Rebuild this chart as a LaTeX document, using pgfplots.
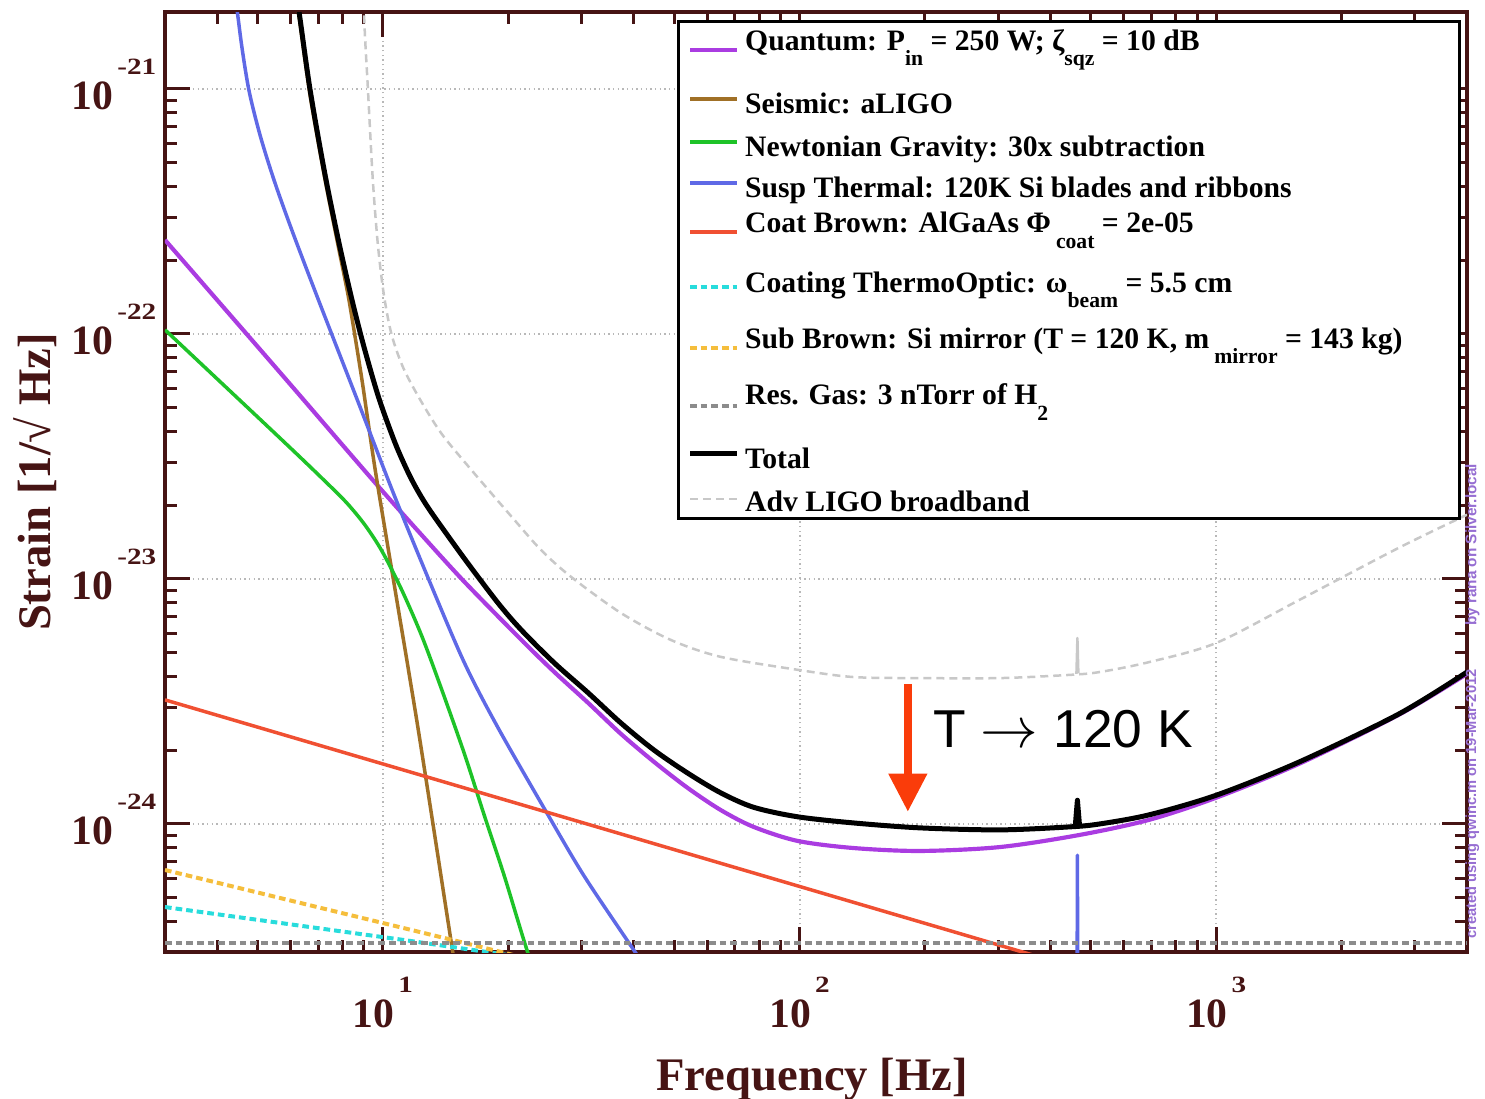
\documentclass[border=0pt]{standalone}
\usepackage{fontspec}
\setmainfont{Liberation Serif}
\newfontfamily\sansf{Liberation Sans}
\usepackage{pgfplots}
\pgfplotsset{compat=1.18}
\usetikzlibrary{arrows.meta}
\definecolor{maroon}{RGB}{70,20,20}
\definecolor{cquant}{RGB}{170,60,225}
\definecolor{cseis}{RGB}{160,112,38}
\definecolor{cnewt}{RGB}{30,195,40}
\definecolor{csusp}{RGB}{95,105,230}
\definecolor{ccoat}{RGB}{240,80,50}
\definecolor{cto}{RGB}{40,220,220}
\definecolor{csub}{RGB}{245,190,60}
\definecolor{cgas}{RGB}{140,140,140}
\definecolor{cadv}{RGB}{200,200,200}
\definecolor{carrow}{RGB}{250,60,10}
\definecolor{cside}{RGB}{150,110,210}
\newcommand{\tenexp}[1]{10\kern1.2pt\raisebox{10.5pt}{\scalebox{1.25}[1]{\fontsize{7}{7}\selectfont #1}}}
\newcommand{\lsub}[1]{\raisebox{-4.6pt}{\fontsize{6.5}{7}\selectfont #1}}
\newcommand{\lstrut}[1]{\rule{0pt}{#1}}
\pgfplotsset{ll/.style={legend image code/.code={\path (0pt,0pt); \draw[##1] (0pt,#1) -- (14pt,#1);}}}
\begin{document}
\begin{tikzpicture}
\useasboundingbox (-49.5pt,-44.1pt) rectangle (396pt,285.6pt);
\begin{axis}[
  name=ax, at={(0pt,0pt)}, anchor=south west,
  scale only axis, width=390.6pt, height=282pt,
  xmode=log, ymode=log,
  xmin=3, xmax=4000, ymin=3e-25, ymax=2.06e-21,
  xtick={10,100,1000}, xticklabels={{\tenexp{1}},{\tenexp{2}},{\tenexp{3}}},
  ytick={1e-24,1e-23,1e-22,1e-21}, yticklabels={{\tenexp{-24}},{\tenexp{-23}},{\tenexp{-22}},{\tenexp{-21}}},
  minor xtick={4,5,6,7,8,9,20,30,40,50,60,70,80,90,200,300,400,500,600,700,800,900,2000,3000},
  minor ytick={4e-25,5e-25,6e-25,7e-25,8e-25,9e-25,2e-24,3e-24,4e-24,5e-24,6e-24,7e-24,8e-24,9e-24,2e-23,3e-23,4e-23,5e-23,6e-23,7e-23,8e-23,9e-23,2e-22,3e-22,4e-22,5e-22,6e-22,7e-22,8e-22,9e-22},
  tick align=inside, xtick pos=both, ytick pos=both,
  xticklabel pos=lower, yticklabel pos=left,
  major tick length=7.5pt, minor tick length=3.6pt,
  tick style={color=maroon, line width=0.9pt},
  axis line style={color=maroon, line width=1pt},
  grid=major, major grid style={densely dotted, color=black!28, line width=0.6pt},
  tick label style={font=\fontsize{12.5}{13}\selectfont\bfseries, text=maroon, inner sep=0pt},
  xticklabel style={anchor=base, yshift=-22.5pt},
  yticklabel style={anchor=base east, xshift=-2.4pt, yshift=-6.3pt},
  xlabel={Frequency [Hz]}, ylabel={Strain [1/√ Hz]},
  label style={font=\fontsize{14}{15}\selectfont\bfseries, text=maroon, inner sep=0pt},
  xlabel style={at={(axis description cs:0.497,0)}, anchor=base, yshift=-41.4pt},
  ylabel style={at={(axis description cs:-0.0883,0.5)}, anchor=base},
  legend style={
    at={(0.9954,0.9915)}, anchor=north east,
    draw=black, line width=0.9pt, fill=white,
    inner xsep=2.7pt, inner ysep=2pt,
    font=\fontsize{8.9}{9}\selectfont\bfseries, text=black,
    row sep=0pt, column sep=1.8pt,
    cells={anchor=base west},
    nodes={inner sep=0pt, text depth=0pt},
  },
  every axis plot/.append style={line join=round},
]
% Quantum
\addplot[cquant, line width=1.25pt, smooth, tension=0.5, ll=0pt] coordinates {
(3,2.42e-22) (5.73,6.81e-23) (9.41,2.56e-23) (12.4,1.51e-23) (15.7,9.73e-24) (21.5,5.64e-24) (25.8,4.17e-24) (31.1,3.12e-24) (37.3,2.33e-24) (44.8,1.79e-24) (54.0,1.40e-24) (64.7,1.14e-24) (77.6,9.73e-25) (98.9,8.53e-25) (134.6,7.98e-25) (194.8,7.76e-25) (302.8,8.05e-25) (470,9.02e-25) (691,1.04e-24) (1000,1.28e-24) (1581,1.76e-24) (2743,2.79e-24) (4000,4.10e-24)};
\addlegendentry{\lstrut{6.6pt}Quantum: P\lsub{in} = 250 W; ζ\lsub{sqz} = 10 dB}
% Seismic
\addplot[cseis, line width=1.05pt, smooth, tension=0.4, ll=4.4pt] coordinates {
(6.0,3.4e-21) (6.30,1.95e-21) (6.69,9.4e-22) (7.26,4.3e-22) (7.85,2.2e-22) (8.29,1.38e-22) (8.91,6.5e-23) (9.67,2.54e-23) (12.06,2.65e-24) (14.6,3.27e-25) (16,1.2e-25)};
\addlegendentry{\lstrut{18.4pt}Seismic: aLIGO}
% Newtonian
\addplot[cnewt, line width=1.05pt, smooth, tension=0.5, ll=4.4pt] coordinates {
(3,1.04e-22) (5.73,3.69e-23) (7.26,2.51e-23) (8.20,2.04e-23) (9.06,1.66e-23) (9.95,1.30e-23) (11.1,9.02e-24) (12.4,5.85e-24) (13.8,3.59e-24) (15.7,1.93e-24) (17.5,1.09e-24) (19.6,6.08e-25) (21.9,3.27e-25) (24.7,1.74e-25)};
\addlegendentry{\lstrut{12.4pt}Newtonian Gravity: 30x subtraction}
% Susp thermal
\addplot[csusp, line width=1.05pt, smooth, tension=0.5, ll=4.4pt] coordinates {
(4.3,3.5e-21) (4.475,2.06e-21) (4.60,1.44e-21) (4.78,9.72e-22) (5.08,6.43e-22) (5.49,4.21e-22) (6.06,2.63e-22) (6.99,1.39e-22) (8.76,5.18e-23) (10.6,2.24e-23) (12.9,9.91e-24) (15.7,4.54e-24) (18.9,2.47e-24) (24.9,1.09e-24) (30.4,6.14e-25) (39.4,3.18e-25) (46.5,2.10e-25)};
\addlegendentry{\lstrut{11.8pt}Susp Thermal: 120K Si blades and ribbons}
\addplot[csusp, line width=1.05pt, forget plot] coordinates {
(462,1e-26) (464.5,7.46e-25) (467,1e-26)};
% Coat Brown
\addplot[ccoat, line width=1.05pt, ll=0.3pt] coordinates {
(3,3.21e-24) (30,1.015e-24) (300,3.21e-25) (3000,1.015e-25)};
\addlegendentry{\lstrut{10.0pt}Coat Brown: AlGaAs Φ\,\lsub{coat} = 2e-05}
% Coating ThermoOptic
\addplot[cto, line width=1.2pt, dash pattern=on 2pt off 1.2pt, ll=1.5pt] coordinates {
(3,4.58e-25) (11.1,3.37e-25) (30,2.64e-25) (100,2.0e-25)};
\addlegendentry{\lstrut{17.2pt}Coating ThermoOptic: ω\lsub{beam} = 5.5 cm}
% Sub Brown
\addplot[csub, line width=1.2pt, dash pattern=on 2pt off 1.2pt, ll=0pt] coordinates {
(3,6.49e-25) (14.6,3.37e-25) (30,2.49e-25) (100,1.7e-25)};
\addlegendentry{\lstrut{16.3pt}\makebox[211.6pt][l]{Sub Brown: Si mirror (T = 120 K, m\,\lsub{mirror} = 143 kg)}}
% Res gas
\addplot[cgas, line width=1.1pt, dash pattern=on 2pt off 1.2pt, ll=-0.4pt] coordinates {
(3,3.27e-25) (4000,3.27e-25)};
\addlegendentry{\lstrut{16.3pt}Res. Gas: 3 nTorr of H\lsub{2}}
% Total
\addplot[black, line width=1.5pt, smooth, tension=0.5, ll=4.4pt] coordinates {
(6.0,3.6e-21) (6.30,2.04e-21) (6.69,9.91e-22) (7.26,4.50e-22) (7.85,2.35e-22) (8.43,1.38e-22) (9.01,8.85e-23) (9.78,5.48e-23) (10.7,3.59e-23) (11.5,2.72e-23) (12.2,2.25e-23) (13.1,1.86e-23) (15.7,1.21e-23) (18.9,7.98e-24) (21.5,6.19e-24) (25.8,4.54e-24) (31.1,3.43e-24) (37.3,2.58e-24) (44.8,2.00e-24) (54.0,1.61e-24) (64.7,1.34e-24) (77.6,1.17e-24) (98.9,1.07e-24) (134.6,1.01e-24) (194.8,9.64e-25) (302.8,9.46e-25) (444.9,9.73e-25) (525,1.0e-24) (691,1.09e-24) (1000,1.31e-24) (1581,1.79e-24) (2743,2.81e-24) (4000,4.17e-24)};
\addlegendentry{\lstrut{18.1pt}Total}
\addplot[black, line width=1.5pt, forget plot] coordinates {
(459,9.78e-25) (464.5,1.25e-24) (470,9.83e-25)};
% Adv LIGO
\addplot[cadv, line width=0.75pt, dash pattern=on 2.4pt off 1.5pt, smooth, tension=0.5, ll=3.6pt] coordinates {
(8.9,6e-21) (9.01,2.06e-21) (9.21,9.91e-22) (9.46,4.26e-22) (9.73,2.31e-22) (10.06,1.44e-22) (10.5,9.91e-23) (11.2,7.26e-23) (12.3,5.38e-23) (13.8,3.94e-23) (16.1,2.86e-23) (20.7,1.74e-23) (24.0,1.31e-23) (28.3,1.02e-23) (37.3,7.26e-24) (49.1,5.64e-24) (64.7,4.81e-24) (98.9,4.26e-24) (134.6,3.98e-24) (194.8,3.94e-24) (302.8,3.94e-24) (444.9,4.06e-24) (525,4.17e-24) (691,4.58e-24) (1000,5.48e-24) (1581,8.20e-24) (2743,1.34e-23) (4000,1.83e-23)};
\addlegendentry{\lstrut{12.1pt}Adv LIGO broadband}
\addplot[cadv, line width=0.75pt, forget plot] coordinates {
(462,4.1e-24) (464.5,5.74e-24) (467,4.12e-24)};
% annotation
\draw[carrow, line width=2.6pt, -{Triangle[width=11pt,length=11.5pt]}] (axis cs:182,3.73e-24) -- (axis cs:182,1.12e-24);
\node[anchor=base west, inner sep=0pt, font=\sansf\fontsize{16}{18}\selectfont, text=black] at (axis cs:209,2.06e-24) {T $\rightarrow$ 120 K};
\end{axis}
\path (ax.south east) ++(1.6pt,44.4pt) node[rotate=90, inner sep=0pt, font=\sansf\bfseries\fontsize{4.4}{5}\selectfont, text=cside] {created using qwinc.m on 19-Mar-2012};
\path (ax.south east) ++(1.6pt,122.1pt) node[rotate=90, inner sep=0pt, font=\sansf\bfseries\fontsize{4.6}{5}\selectfont, text=cside] {by rana on Silver.local};
\end{tikzpicture}
\end{document}
